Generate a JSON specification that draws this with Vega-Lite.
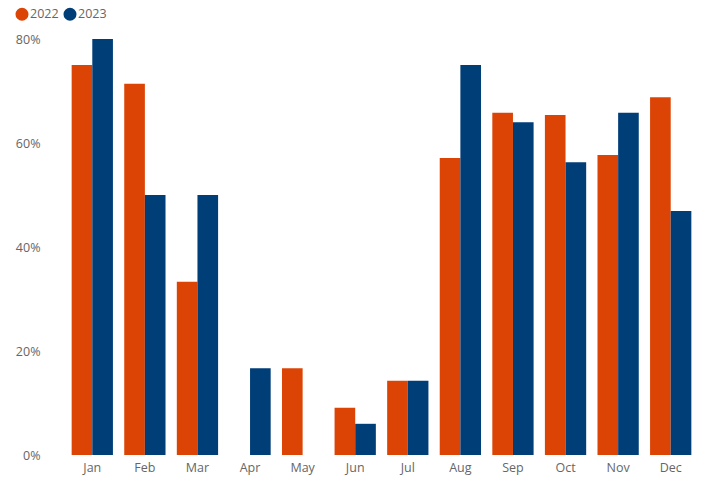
{
  "$schema": "https://vega.github.io/schema/vega-lite/v6.json",
  "width": 631,
  "height": 416,
  "autosize": "none",
  "padding": {"left": 66, "top": 39, "right": 15, "bottom": 36},
  "background": "white",
  "config": {
    "view": {"stroke": null},
    "font": "Open Sans",
    "axis": {"labelColor": "#666666", "labelFontSize": 12.5, "labelFont": "Open Sans"}
  },
  "data": {
    "values": [
      {"month": "Jan", "year": "2022", "value": 0.75},
      {"month": "Jan", "year": "2023", "value": 0.80},
      {"month": "Feb", "year": "2022", "value": 0.714},
      {"month": "Feb", "year": "2023", "value": 0.50},
      {"month": "Mar", "year": "2022", "value": 0.333},
      {"month": "Mar", "year": "2023", "value": 0.50},
      {"month": "Apr", "year": "2022", "value": 0},
      {"month": "Apr", "year": "2023", "value": 0.167},
      {"month": "May", "year": "2022", "value": 0.167},
      {"month": "May", "year": "2023", "value": 0},
      {"month": "Jun", "year": "2022", "value": 0.091},
      {"month": "Jun", "year": "2023", "value": 0.06},
      {"month": "Jul", "year": "2022", "value": 0.143},
      {"month": "Jul", "year": "2023", "value": 0.143},
      {"month": "Aug", "year": "2022", "value": 0.571},
      {"month": "Aug", "year": "2023", "value": 0.75},
      {"month": "Sep", "year": "2022", "value": 0.658},
      {"month": "Sep", "year": "2023", "value": 0.64},
      {"month": "Oct", "year": "2022", "value": 0.654},
      {"month": "Oct", "year": "2023", "value": 0.563},
      {"month": "Nov", "year": "2022", "value": 0.577},
      {"month": "Nov", "year": "2023", "value": 0.658},
      {"month": "Dec", "year": "2022", "value": 0.688},
      {"month": "Dec", "year": "2023", "value": 0.469}
    ]
  },
  "mark": {"type": "bar"},
  "encoding": {
    "x": {
      "field": "month", "type": "nominal", "sort": null, "title": null,
      "scale": {"paddingInner": 0.215, "paddingOuter": 0.1075},
      "axis": {"labelAngle": 0, "ticks": false, "domain": false, "labelPadding": 6, "grid": false}
    },
    "xOffset": {"field": "year", "type": "nominal", "scale": {"paddingInner": 0, "paddingOuter": 0}},
    "y": {
      "field": "value", "type": "quantitative", "title": null,
      "scale": {"domain": [0, 0.8], "nice": false},
      "axis": {"format": ".0%", "values": [0, 0.2, 0.4, 0.6, 0.8], "labelOverlap": false, "ticks": false, "domain": false, "grid": false, "labelPadding": 26}
    },
    "color": {
      "field": "year", "type": "nominal", "title": null,
      "scale": {"domain": ["2022", "2023"], "range": ["#DC4405", "#003E78"]},
      "legend": {
        "orient": "none", "legendX": -51, "legendY": -32, "direction": "horizontal",
        "symbolType": "circle", "symbolSize": 170, "symbolOpacity": 1, "symbolStrokeWidth": 0,
        "labelFontSize": 12.5, "labelColor": "#666666", "columnPadding": 4, "labelOffset": 1
      }
    }
  }
}
